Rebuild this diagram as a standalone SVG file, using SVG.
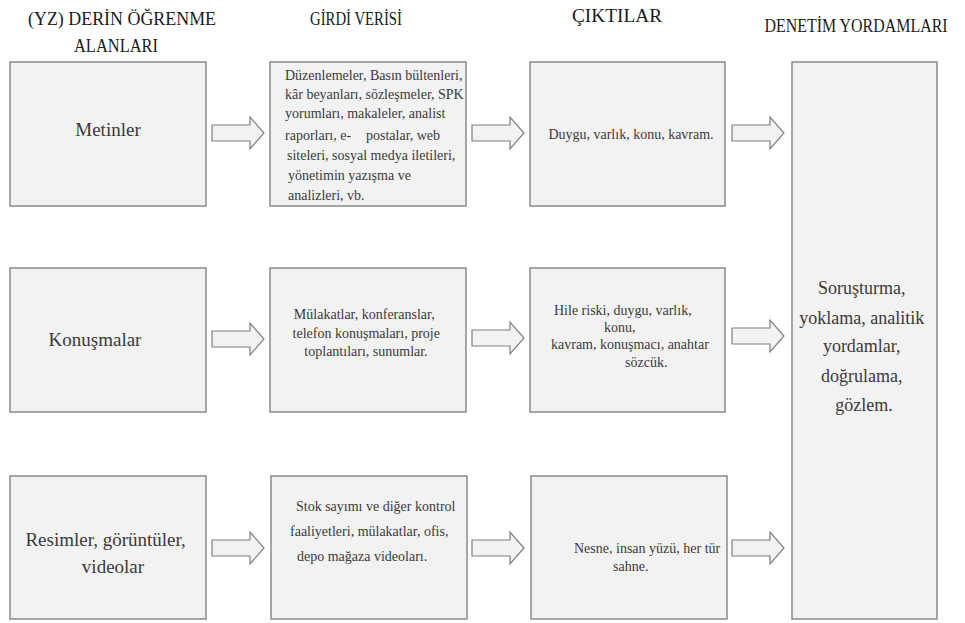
<svg xmlns="http://www.w3.org/2000/svg" width="965" height="623" viewBox="0 0 965 623">
  <style>
    .box { fill: #f2f2f2; stroke: #8a8a8a; stroke-width: 1.5; }
    .arrow { fill: #f2f2f2; stroke: #7f7f7f; stroke-width: 1.2; stroke-linejoin: miter; }
    text { font-family: "Liberation Serif", Tinos, "Times New Roman", Times, "DejaVu Serif", serif; }
    .hdr { font-size: 19px; fill: #1a1a1a; text-anchor: middle; }
    .lbl { font-size: 19px; fill: #3a3a3a; text-anchor: middle; }
    .txt { font-size: 14px; fill: #3a3a3a; }
    .mid { text-anchor: middle; }
    .big { font-size: 18px; fill: #3a3a3a; text-anchor: middle; }
  </style>
  <defs>
    <!-- block arrow, 52 wide, centred on y=0 -->
    <path id="blockArrow" class="arrow" d="M0,-8 H38 V-16 L52,0 L38,16 V8 H0 Z"/>
  </defs>
  <rect width="965" height="623" fill="#ffffff"/>

  <!-- column headers (narrowed serif caps) -->
  <g id="headers">
    <text class="hdr" x="122" y="25" textLength="188" lengthAdjust="spacingAndGlyphs">(YZ) DERİN ÖĞRENME</text>
    <text class="hdr" x="116" y="52" textLength="84" lengthAdjust="spacingAndGlyphs">ALANLARI</text>
    <text class="hdr" x="356" y="25" textLength="92" lengthAdjust="spacingAndGlyphs">GİRDİ VERİSİ</text>
    <text class="hdr" x="617" y="22" textLength="90" lengthAdjust="spacingAndGlyphs">ÇIKTILAR</text>
    <text class="hdr" transform="translate(856,32) scale(0.84,1)" x="0" y="0">DENETİM YORDAMLARI</text>
  </g>

  <!-- row 1: texts -->
  <g id="metinler">
    <rect class="box" x="10" y="62" width="196" height="144"/>
    <text class="lbl" x="108" y="136">Metinler</text>
  </g>
  <g id="girdi-metinler">
    <rect class="box" x="270" y="62" width="196" height="144"/>
    <text class="txt">
      <tspan x="285" y="80">Düzenlemeler, Basın bültenleri,</tspan>
      <tspan x="285" y="99">kâr beyanları, sözleşmeler, SPK</tspan>
      <tspan x="285" y="118">yorumları, makaleler, analist</tspan>
      <tspan x="285" y="140">raporları, e-</tspan><tspan x="366" y="140">postalar, web</tspan>
      <tspan x="287" y="160">siteleri, sosyal medya iletileri,</tspan>
      <tspan x="288" y="180">yönetimin yazışma ve</tspan>
      <tspan x="288" y="200">analizleri, vb.</tspan>
    </text>
  </g>
  <g id="cikti-metinler">
    <rect class="box" x="530" y="62" width="195" height="144"/>
    <text class="txt mid" x="631" y="139">Duygu, varlık, konu, kavram.</text>
  </g>

  <!-- row 2: speech -->
  <g id="konusmalar">
    <rect class="box" x="10" y="268" width="196" height="144"/>
    <text class="lbl" x="95" y="346">Konuşmalar</text>
  </g>
  <g id="girdi-konusmalar">
    <rect class="box" x="270" y="268" width="196" height="144"/>
    <text class="txt mid">
      <tspan x="366" y="319">Mülakatlar, konferanslar,</tspan>
      <tspan x="368" y="338">telefon konuşmaları, proje</tspan>
      <tspan x="366" y="356">toplantıları, sunumlar.</tspan>
    </text>
  </g>
  <g id="cikti-konusmalar">
    <rect class="box" x="530" y="268" width="195" height="144"/>
    <text class="txt">
      <tspan x="554" y="315">Hile riski, duygu, varlık,</tspan>
      <tspan x="604" y="332">konu,</tspan>
      <tspan x="551" y="349">kavram, konuşmacı, anahtar</tspan>
      <tspan x="625" y="367">sözcük.</tspan>
    </text>
  </g>

  <!-- row 3: images -->
  <g id="resimler">
    <rect class="box" x="10" y="476" width="196" height="143"/>
    <text class="lbl">
      <tspan x="108" y="546">Resimler, görüntüler,</tspan>
      <tspan x="113" y="573">videolar</tspan>
    </text>
  </g>
  <g id="girdi-resimler">
    <rect class="box" x="271" y="476" width="196" height="143"/>
    <text class="txt">
      <tspan x="296" y="511">Stok sayımı ve diğer kontrol</tspan>
      <tspan x="290" y="536">faaliyetleri, mülakatlar, ofis,</tspan>
      <tspan x="297" y="561">depo mağaza videoları.</tspan>
    </text>
  </g>
  <g id="cikti-resimler">
    <rect class="box" x="531" y="476" width="196" height="143"/>
    <text class="txt">
      <tspan x="574" y="553">Nesne, insan yüzü, her tür</tspan>
      <tspan x="613" y="571">sahne.</tspan>
    </text>
  </g>

  <!-- audit procedures, spanning all rows -->
  <g id="denetim">
    <rect class="box" x="792" y="62" width="145" height="557"/>
    <text class="big">
      <tspan x="864" y="294">Soruşturma,</tspan>
      <tspan x="864" y="324">yoklama, analitik</tspan>
      <tspan x="864" y="352">yordamlar,</tspan>
      <tspan x="864" y="382">doğrulama,</tspan>
      <tspan x="864" y="411">gözlem.</tspan>
    </text>
  </g>

  <!-- connectors -->
  <g id="connectors">
    <use href="#blockArrow" x="212" y="133"/>
    <use href="#blockArrow" x="472" y="133"/>
    <use href="#blockArrow" x="732" y="133"/>
    <use href="#blockArrow" x="212" y="339"/>
    <use href="#blockArrow" x="472" y="338"/>
    <use href="#blockArrow" x="732" y="336"/>
    <use href="#blockArrow" x="212" y="548"/>
    <use href="#blockArrow" x="472" y="548"/>
    <use href="#blockArrow" x="732" y="548"/>
  </g>
</svg>
